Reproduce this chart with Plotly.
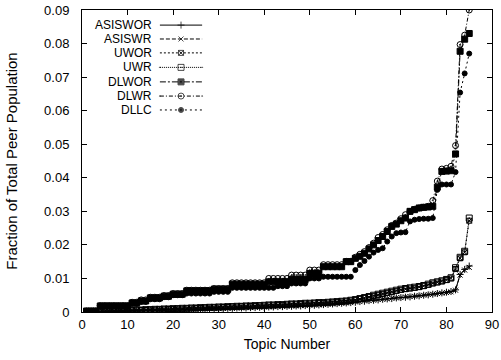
import plotly.graph_objects as go

topics = list(range(1, 86))

asiswor = [0.0000,0.0000,0.0001,0.0001,0.0001,0.0002,0.0002,0.0002,0.0003,0.0003,
           0.0003,0.0004,0.0004,0.0004,0.0005,0.0005,0.0005,0.0006,0.0006,0.0006,
           0.0007,0.0007,0.0007,0.0008,0.0008,0.0008,0.0009,0.0009,0.0010,0.0010,
           0.0010,0.0011,0.0011,0.0012,0.0012,0.0012,0.0013,0.0013,0.0014,0.0014,
           0.0015,0.0015,0.0016,0.0016,0.0017,0.0017,0.0018,0.0018,0.0019,0.0020,
           0.0020,0.0021,0.0022,0.0023,0.0024,0.0025,0.0026,0.0027,0.0028,0.0029,
           0.0031,0.0032,0.0034,0.0035,0.0036,0.0038,0.0039,0.0040,0.0042,0.0043,
           0.0044,0.0045,0.0047,0.0048,0.0050,0.0051,0.0053,0.0055,0.0057,0.0059,
           0.0061,0.0066,0.0112,0.0127,0.0137]
asiswr = [0.0000,0.0000,0.0001,0.0001,0.0002,0.0002,0.0002,0.0003,0.0003,0.0003,
          0.0004,0.0004,0.0004,0.0005,0.0005,0.0005,0.0006,0.0006,0.0006,0.0007,
          0.0007,0.0007,0.0008,0.0008,0.0008,0.0009,0.0009,0.0010,0.0010,0.0010,
          0.0011,0.0011,0.0011,0.0012,0.0012,0.0013,0.0013,0.0014,0.0014,0.0015,
          0.0015,0.0016,0.0016,0.0017,0.0017,0.0018,0.0018,0.0019,0.0019,0.0020,
          0.0021,0.0021,0.0022,0.0023,0.0024,0.0025,0.0026,0.0027,0.0028,0.0030,
          0.0031,0.0033,0.0034,0.0035,0.0037,0.0038,0.0039,0.0041,0.0042,0.0043,
          0.0045,0.0046,0.0047,0.0049,0.0050,0.0052,0.0053,0.0055,0.0056,0.0058,
          0.0060,0.0065,0.0110,0.0125,0.0133]
uwor = [0.0000,0.0001,0.0001,0.0001,0.0002,0.0002,0.0003,0.0003,0.0004,0.0004,
        0.0005,0.0005,0.0006,0.0006,0.0007,0.0007,0.0008,0.0008,0.0009,0.0009,
        0.0010,0.0010,0.0011,0.0011,0.0012,0.0012,0.0013,0.0013,0.0014,0.0014,
        0.0015,0.0015,0.0016,0.0016,0.0017,0.0017,0.0018,0.0018,0.0019,0.0019,
        0.0020,0.0020,0.0021,0.0021,0.0022,0.0023,0.0023,0.0024,0.0025,0.0025,
        0.0026,0.0027,0.0027,0.0028,0.0029,0.0030,0.0031,0.0032,0.0034,0.0036,
        0.0039,0.0042,0.0045,0.0048,0.0051,0.0054,0.0057,0.0060,0.0063,0.0066,
        0.0068,0.0070,0.0072,0.0074,0.0077,0.0081,0.0085,0.0088,0.0091,0.0095,
        0.0100,0.0128,0.0160,0.0178,0.0272]
uwr = [0.0000,0.0001,0.0001,0.0002,0.0002,0.0003,0.0003,0.0004,0.0004,0.0005,
       0.0005,0.0006,0.0006,0.0007,0.0007,0.0008,0.0008,0.0009,0.0009,0.0010,
       0.0010,0.0011,0.0011,0.0012,0.0012,0.0013,0.0013,0.0014,0.0014,0.0015,
       0.0015,0.0016,0.0016,0.0017,0.0017,0.0018,0.0018,0.0019,0.0019,0.0020,
       0.0021,0.0021,0.0022,0.0022,0.0023,0.0024,0.0024,0.0025,0.0026,0.0026,
       0.0027,0.0028,0.0028,0.0029,0.0030,0.0031,0.0032,0.0033,0.0035,0.0037,
       0.0040,0.0043,0.0046,0.0050,0.0053,0.0056,0.0059,0.0062,0.0065,0.0068,
       0.0070,0.0072,0.0074,0.0076,0.0079,0.0083,0.0087,0.0090,0.0093,0.0097,
       0.0102,0.0132,0.0163,0.0181,0.0280]
dlwor = ([0.0003]*3 + [0.0018]*7 + [0.0027]*2 + [0.0033]*2 + [0.0042]*3 + [0.0047]*2
         + [0.0053]*3 + [0.0063]*6 + [0.0068]*4 + [0.0083]*8 + [0.0090]*5 + [0.0097]*4
         + [0.0115]*3 + [0.0135]*5 + [0.0150]*2
         + [0.0160,0.0166,0.0175,0.0188,0.0200,0.0213,0.0225,0.0240,0.0255,0.0262,
            0.0272,0.0280,0.0300,0.0305,0.0310,0.0312,0.0313,0.0315,0.0372,0.0419,
            0.0420,0.0421,0.0471,0.0777,0.0813,0.0830])
dlwr = ([0.0003]*3 + [0.0019]*7 + [0.0029]*2 + [0.0036]*2 + [0.0044]*3 + [0.0049]*2
        + [0.0055]*3 + [0.0065]*6 + [0.0070]*4 + [0.0087]*8 + [0.0100]*5 + [0.0110]*4
        + [0.0125]*3 + [0.0141]*5 + [0.0151]*2
        + [0.0163,0.0172,0.0180,0.0192,0.0205,0.0222,0.0231,0.0245,0.0258,0.0265,
           0.0278,0.0290,0.0300,0.0306,0.0310,0.0312,0.0315,0.0332,0.0390,0.0426,
           0.0428,0.0434,0.0496,0.0797,0.0825,0.0900])
dllc = ([0.0002]*3 + [0.0016]*7 + [0.0024]*2 + [0.0030]*2 + [0.0038]*3 + [0.0044]*2
        + [0.0050]*3 + [0.0055]*6 + [0.0060]*4 + [0.0072]*10 + [0.0077]*3 + [0.0085]*4
        + [0.0100]*3 + [0.0105]*7
        + [0.0125,0.0140,0.0152,0.0165,0.0177,0.0185,0.0190,0.0210,0.0225,0.0235,
           0.0237,0.0238,0.0270,0.0275,0.0277,0.0278,0.0278,0.0280,0.0364,0.0380,
           0.0380,0.0380,0.0417,0.0654,0.0711,0.0770])

series_names = ["ASISWOR", "ASISWR", "UWOR", "UWR", "DLWOR", "DLWR", "DLLC"]
series_vals = [asiswor, asiswr, uwor, uwr, dlwor, dlwr, dllc]
dashes = ["solid", "4px,2px", "2px,2px", "1px,1px", "6px,2px,2px,2px", "4px,2px,1px,2px", "2px,3px"]
symbols = ["cross-thin", "x-thin", "square-x-open", "square-open-dot", "square", "circle-open-dot", "circle"]
sizes = [5, 5, 5, 6, 6, 6, 5]

FONT = "Liberation Sans, Arial, Helvetica, sans-serif"
fig = go.Figure()

for name, vals, d, s, sz in zip(series_names, series_vals, dashes, symbols, sizes):
    fig.add_trace(go.Scatter(
        x=topics, y=vals, mode="lines+markers", name=name, showlegend=False,
        line=dict(color="black", width=1, dash=d),
        marker=dict(symbol=s, size=sz, color="black", line=dict(color="black", width=1)),
    ))

# custom gnuplot-style key (text left, sample right) on an overlay unit axis
row_y = [0.950, 0.904, 0.858, 0.810, 0.762, 0.715, 0.669]
for name, d, s, sz, yy in zip(series_names, dashes, symbols, sizes, row_y):
    fig.add_trace(go.Scatter(
        x=[0.190, 0.2415, 0.293], y=[yy, yy, yy], mode="lines+markers",
        xaxis="x2", yaxis="y2", showlegend=False, hoverinfo="skip",
        line=dict(color="black", width=1, dash=d),
        marker=dict(symbol=s, size=[0, sz, 0], color="black", line=dict(color="black", width=1)),
    ))
    fig.add_annotation(x=0.173, y=yy, xref="paper", yref="paper", text=name,
                       showarrow=False, xanchor="right", yanchor="middle", borderpad=0,
                       font=dict(family=FONT, size=12, color="black"))

axis_common = dict(showline=True, linecolor="black", linewidth=1, mirror="ticks",
                   ticks="inside", ticklen=5, tickcolor="black", showgrid=False,
                   zeroline=False, automargin=False,
                   tickfont=dict(family=FONT, size=13, color="black"))
fig.update_layout(
    width=501, height=360, margin=dict(l=82, r=9, t=10, b=48),
    paper_bgcolor="white", plot_bgcolor="white",
    xaxis=dict(range=[0, 90], dtick=10, tick0=0,
               title=dict(text="Topic Number", font=dict(family=FONT, size=14, color="black"), standoff=8),
               **axis_common),
    yaxis=dict(range=[0, 0.09], dtick=0.01, tick0=0, ticklabelstandoff=9,
               title=dict(text="Fraction of Total Peer Population", font=dict(family=FONT, size=15, color="black"), standoff=22),
               **axis_common),
    xaxis2=dict(overlaying="x", range=[0, 1], visible=False),
    yaxis2=dict(overlaying="y", range=[0, 1], visible=False),
    showlegend=False,
)

fig.write_html("out.html")
